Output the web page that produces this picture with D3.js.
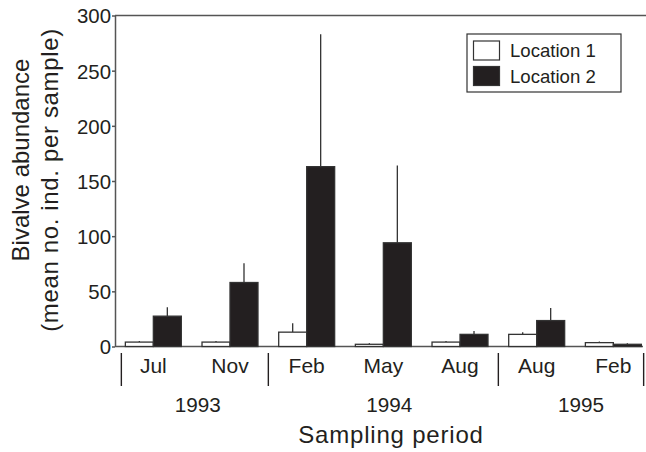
<!DOCTYPE html>
<html><head><meta charset="utf-8">
<script src="https://cdn.jsdelivr.net/npm/d3@7"></script>
<style>
html,body{margin:0;padding:0;background:#fff;}
svg{display:block;font-family:"Liberation Sans",Arial,Helvetica,sans-serif;}
</style></head>
<body>
<svg id="chart" width="646" height="452"></svg>
<script>
const months = ["Jul","Nov","Feb","May","Aug","Aug","Feb"];
const years = ["1993","1993","1994","1994","1994","1995","1995"];
const yearLabels = ["1993","1994","1995"];
const seriesNames = ["Location 1","Location 2"];
const loc1 = [4, 4, 13, 2, 4, 11, 3.5];
const loc1Err = [5, 5, 21, 3, 5, 13, 4.5];
const loc2 = [27.5, 58, 163, 94, 11, 23.5, 2];
const loc2Err = [35.5, 75.5, 283, 164, 14, 35, 3];
const yTicks = [0, 50, 100, 150, 200, 250, 300];

const ink = "#231f20";
const axisGrey = "#555";
const svg = d3.select("#chart");

const ids = months.map((m,i)=>i);
const x = d3.scaleBand().domain(ids).range([115, 115 + 7*76.67]).paddingInner(0.27).paddingOuter(0.135);
const sub = d3.scaleBand().domain([0,1]).range([0, x.bandwidth()]);
const y = d3.scaleLinear().domain([0,300]).range([346.5, 15.5]);

// frame lines
svg.append("line").attr("x1",115).attr("x2",646).attr("y1",y(300)).attr("y2",y(300))
  .attr("stroke",axisGrey).attr("stroke-width",1.5);
svg.append("line").attr("x1",115).attr("x2",643).attr("y1",y(0)).attr("y2",y(0))
  .attr("stroke",axisGrey).attr("stroke-width",1.5);

// y axis
const yAxis = svg.append("g").attr("transform","translate(115,0)")
  .call(d3.axisLeft(y).tickValues(yTicks).tickSize(3).tickPadding(1).tickSizeOuter(0));
yAxis.select(".domain").attr("stroke",axisGrey).attr("stroke-width",1.5);
yAxis.selectAll(".tick line").attr("stroke",axisGrey).attr("stroke-width",1.5);
yAxis.selectAll(".tick text").attr("fill",ink).attr("font-size",20.4)
  .attr("font-family","'Liberation Sans',Arial,sans-serif").attr("dy","0.36em");

// bars
const series = [
  {vals: loc1, errs: loc1Err, fill:"#fff"},
  {vals: loc2, errs: loc2Err, fill: ink}
];
series.forEach((s, si) => {
  const g = svg.append("g");
  g.selectAll("line.err").data(ids).join("line").attr("class","err")
    .attr("x1", i => x(i) + sub(si) + sub.bandwidth()/2)
    .attr("x2", i => x(i) + sub(si) + sub.bandwidth()/2)
    .attr("y1", i => y(s.vals[i]))
    .attr("y2", i => y(s.errs[i]))
    .attr("stroke", "#333").attr("stroke-width", 1.3);
  g.selectAll("rect").data(ids).join("rect")
    .attr("x", i => x(i) + sub(si))
    .attr("width", sub.bandwidth())
    .attr("y", i => y(s.vals[i]))
    .attr("height", i => y(0) - y(s.vals[i]))
    .attr("fill", s.fill).attr("stroke", "#333").attr("stroke-width", 1.3);
});

// month labels
svg.append("g").selectAll("text").data(ids).join("text")
  .attr("x", i => x(i) + x.bandwidth()/2)
  .attr("y", 373)
  .attr("text-anchor","middle").attr("font-size",21).attr("fill",ink)
  .text(i => months[i]);

// year separators
const sepX = [x(0) - 4];
for (let i = 1; i < ids.length; i++) {
  if (years[i] !== years[i-1]) sepX.push((x(i-1) + x.bandwidth() + x(i)) / 2);
}
sepX.push(x(ids.length-1) + x.bandwidth() + 2.3);
svg.append("g").selectAll("line").data(sepX).join("line")
  .attr("x1", d=>d).attr("x2", d=>d).attr("y1", 353).attr("y2", 386)
  .attr("stroke", ink).attr("stroke-width", 1.4);

// year labels
yearLabels.forEach(yr => {
  const idx = ids.filter(i => years[i] === yr);
  const c = (x(idx[0]) + x(idx[idx.length-1]) + x.bandwidth()) / 2;
  svg.append("text").attr("x", c + 6).attr("y", 411.5)
    .attr("text-anchor","middle").attr("font-size",20.7).attr("fill",ink).text(yr);
});

// axis titles
svg.append("text").attr("x", 391).attr("y", 443).attr("text-anchor","middle")
  .attr("font-size",24).attr("letter-spacing","0.8px").attr("fill",ink).text("Sampling period");
svg.append("text").attr("transform","translate(29,160) rotate(-90)")
  .attr("text-anchor","middle").attr("font-size",24).attr("fill",ink).text("Bivalve abundance");
svg.append("text").attr("transform","translate(58,180) rotate(-90)")
  .attr("text-anchor","middle").attr("font-size",24).attr("letter-spacing","0.65px").attr("fill",ink).text("(mean no. ind. per sample)");

// legend
const lg = svg.append("g");
lg.append("rect").attr("x",467).attr("y",34).attr("width",154).attr("height",58)
  .attr("fill","#fff").attr("stroke","#333").attr("stroke-width",1.2);
seriesNames.forEach((n, i) => {
  lg.append("rect").attr("x",473.5).attr("y",41 + i*25.5).attr("width",26).attr("height",19)
    .attr("fill", series[i].fill).attr("stroke","#333").attr("stroke-width",1.2);
  lg.append("text").attr("x",510).attr("y",57 + i*25.5).attr("font-size",18.6).attr("fill",ink).text(n);
});
</script>
</body></html>
